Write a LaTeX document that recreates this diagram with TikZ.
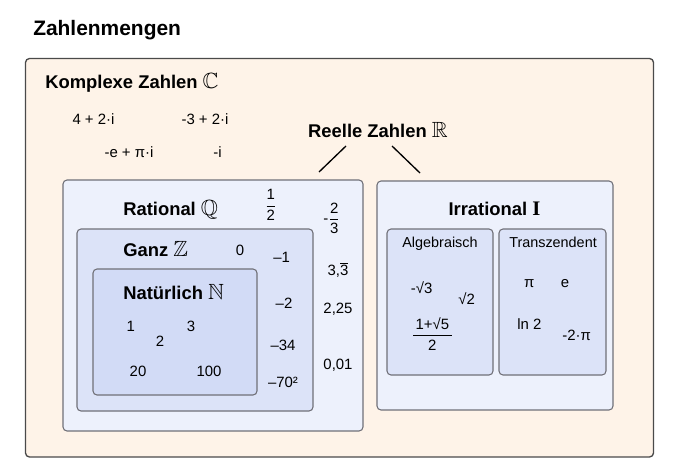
\documentclass[tikz,border=0pt]{standalone}
\usepackage{amsmath,amssymb}
\usepackage{fontspec}
\setmainfont{Liberation Sans}
\newfontfamily\serifbold{Liberation Serif}
\usepackage{tikz}
\usetikzlibrary{positioning}
\definecolor{outerfill}{HTML}{FEF3E8}
\definecolor{outerline}{HTML}{4A4A4A}
\definecolor{setline}{HTML}{707078}
\definecolor{lvlone}{HTML}{EDF1FC}
\definecolor{lvltwo}{HTML}{DCE3F8}
\definecolor{lvlthree}{HTML}{D2DBF6}
\newcommand{\bruch}[2]{\genfrac{}{}{0.8pt}{0}{\text{#1}}{\text{#2}}}
\newcommand{\menge}[1]{{\fontsize{16.5}{18}\selectfont$#1$}}
\tikzset{
  outerbox/.style={draw=outerline,fill=outerfill,line width=1pt,rounded corners=3pt},
  setbox/.style={draw=setline,line width=0.8pt,rounded corners=3pt},
  titletxt/.style={font=\fontsize{15.7}{18}\selectfont\bfseries,inner sep=0pt},
  bigtxt/.style={font=\fontsize{13.8}{16}\selectfont\bfseries,inner sep=0pt},
  numtxt/.style={font=\fontsize{11.2}{13}\selectfont,inner sep=0pt},
  subtxt/.style={font=\fontsize{10.8}{13}\selectfont,inner sep=0pt},
  rline/.style={line width=1pt,draw=black}
}

\begin{document}
\begin{tikzpicture}[x=0.75pt,y=-0.75pt]
  \useasboundingbox (0,0) rectangle (680,470);
  % title
  \node[titletxt,anchor=base west] (title) at (33,36) {Zahlenmengen};
  % complex numbers
  \draw[outerbox] (25.5,58.5) rectangle (653.5,457);
  \node[bigtxt,anchor=base west] (komplex) at (45,89) {Komplexe Zahlen \menge{\mathbb{C}}};
  \foreach \x/\y/\t [count=\i] in {93.5/119.5/{4 + 2·i},205/119.5/{-3 + 2·i},129/152/{-e + π·i},217.5/152/{-i}}{
    \node[numtxt] (c\i) at (\x,\y) {\t};
  }
  % real numbers
  \node[bigtxt,anchor=base] (reell) at (378,138) {Reelle Zahlen \menge{\mathbb{R}}};
  \coordinate (rqa) at (346,146);
  \coordinate (rqb) at (319,172);
  \coordinate (ria) at (392,146);
  \coordinate (rib) at (420,173);
  \draw[rline] (rqa) -- (rqb);
  \draw[rline] (ria) -- (rib);
  % rational, integer, natural
  \draw[setbox,fill=lvlone] (63,180) rectangle (363,431);
  \draw[setbox,fill=lvltwo] (77,229) rectangle (313,411);
  \draw[setbox,fill=lvlthree] (93,269) rectangle (257,395);
  \node[bigtxt,anchor=base west] (rational) at (123,215.7) {Rational \menge{\mathbb{Q}}};
  \node[bigtxt,anchor=base west] (ganz) at (123,256.7) {Ganz \menge{\mathbb{Z}}};
  \node[bigtxt,anchor=base west] (natur) at (123,299) {Natürlich \menge{\mathbb{N}}};
  \foreach \x/\y/\t [count=\i] in {130.7/326.7/1,160/341.7/2,191/326.7/3,138/371.7/20,209/371.7/100}{
    \node[numtxt] (n\i) at (\x,\y) {\t};
  }
  \foreach \x/\y/\t [count=\i] in {240/250/0,281.7/257.7/{–1},284/303.3/{–2},283/345.7/{–34},283/382.7/{–70²}}{
    \node[numtxt] (z\i) at (\x,\y) {\t};
  }
  \node[numtxt] (q1) at (270.7,205) {$\bruch{1}{2}$};
  \node[numtxt] (q2) at (331.7,218.3) {-$\bruch{2}{3}$};
  \node[numtxt,anchor=base] (q3) at (338,275.5) {3,$\overline{\text{3}}$};
  \node[numtxt] (q4) at (338,309.3) {2,25};
  \node[numtxt] (q5) at (338,365) {0,01};
  % irrational
  \draw[setbox,fill=lvlone] (377,181) rectangle (613,410);
  \draw[setbox,fill=lvltwo] (387,229) rectangle (493,375);
  \draw[setbox,fill=lvltwo] (499,229) rectangle (606,375);
  \node[bigtxt,anchor=base] (irrational) at (494.5,215) {Irrational {\serifbold\fontsize{15.5}{18}\selectfont I}};
  \node[subtxt,anchor=base] (alg) at (440,247.7) {Algebraisch};
  \node[subtxt,anchor=base] (trans) at (553,247.7) {Transzendent};
  \foreach \x/\y/\t [count=\i] in {421.7/287.3/{-√3},466.7/298.3/{√2}}{
    \node[numtxt] (a\i) at (\x,\y) {\t};
  }
  \node[numtxt] (a3) at (432.3,334) {$\bruch{\,1+√5\,}{2}$};
  \foreach \x/\y/\t [count=\i] in {529.3/284/π,565/284/e,529.3/324/{ln 2},576.7/335/{-2·π}}{
    \node[numtxt] (t\i) at (\x,\y) {\t};
  }
\end{tikzpicture}
\end{document}
